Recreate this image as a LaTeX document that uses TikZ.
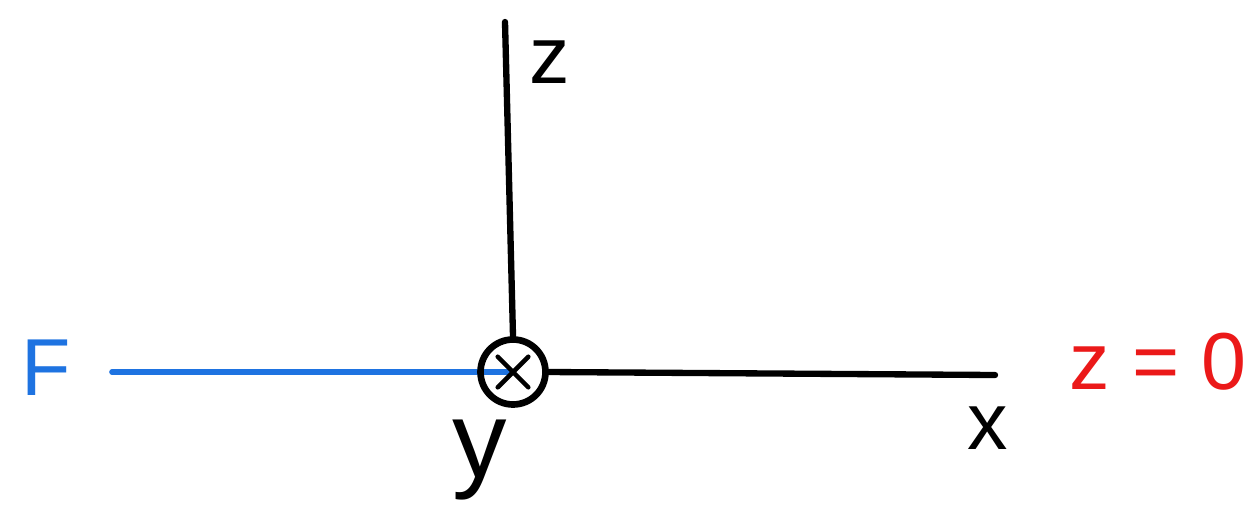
\documentclass[tikz,border=0pt]{standalone}
\usepackage{fontspec}
\setsansfont{Liberation Sans}
\usetikzlibrary{positioning}
\definecolor{penblue}{RGB}{30,115,225}
\definecolor{penred}{RGB}{235,25,25}

\begin{document}
\begin{tikzpicture}[x=0.02cm,y=-0.02cm,line cap=round,
  axis/.style={line width=3.6pt,black},
  lbl/.style={font=\sffamily\fontsize{46}{46}\selectfont,inner sep=0pt}]
\useasboundingbox (0,0) rectangle (1256,508);
\coordinate (O) at (513,372);
\coordinate (Ztop) at (505,22);
\coordinate (Xend) at (995,375);
\coordinate (Fend) at (112,372);
% force line
\draw[penblue,line width=3.2pt] (Fend)--(O);
% y axis into the page
\node[draw,circle,line width=3.8pt,minimum size=1.3cm,inner sep=0pt] (Y) at (O){};
\node[circle,minimum size=0.85cm,inner sep=0pt] (Yin) at (O){};
\draw[line width=2.6pt] (Yin.north west)--(Yin.south east);
\draw[line width=2.6pt] (Yin.south west)--(Yin.north east);
% axes
\draw[axis] (Y.north)--(Ztop);
\draw[axis] (Y.east)--(Xend);
% labels
\node[lbl] (zlab) at (550,62){z};
\node[lbl] (xlab) at (988,428){x};
\node[lbl,font=\sffamily\fontsize{62}{62}\selectfont] (ylab) at (480,460){y};
\node[lbl,penblue] (Flab) at (46,368){F};
\node[lbl,penred] (zzero) at (1158,362){z = 0};
\end{tikzpicture}
\end{document}
